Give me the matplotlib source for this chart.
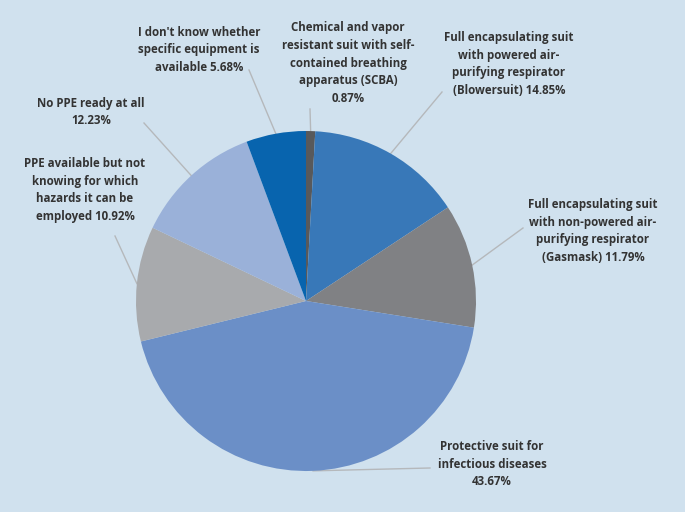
import matplotlib
matplotlib.use("Agg")
import matplotlib.pyplot as plt
import numpy as np

labels = [
    "Chemical and vapor\nresistant suit with self-\ncontained breathing\napparatus (SCBA)\n0.87%",
    "Full encapsulating suit\nwith powered air-\npurifying respirator\n(Blowersuit) 14.85%",
    "Full encapsulating suit\nwith non-powered air-\npurifying respirator\n(Gasmask) 11.79%",
    "Protective suit for\ninfectious diseases\n43.67%",
    "PPE available but not\nknowing for which\nhazards it can be\nemployed 10.92%",
    "No PPE ready at all\n12.23%",
    "I don't know whether\nspecific equipment is\navailable 5.68%",
]
values = [0.87, 14.85, 11.79, 43.67, 10.92, 12.23, 5.68]
colors = ["#58595b", "#3878b8", "#808184", "#6b8fc7", "#a8aaad", "#9ab1d9", "#0864ae"]

# label centres (pixel coords) and leader-line outer ends
label_pos = [(348, 63), (509, 64), (593, 231), (492, 464), (85, 190), (91, 112), (199, 50)]
line_end = [(310, 109), (442, 92), (523, 228), (430, 468), (115, 236), (144, 123), (249, 70)]

W, H = 685, 512
bg = "#d0e1ee"
fig = plt.figure(figsize=(W / 100, H / 100), dpi=100, facecolor=bg)
ax = fig.add_axes([0, 0, 1, 1])
ax.set_facecolor(bg)

cx, cy, r = 306, H - 301, 170
wedges, _ = ax.pie(values, colors=colors, startangle=90, counterclock=False,
                   center=(cx, cy), radius=r, frame=True,
                   wedgeprops=dict(linewidth=0))
ax.set_xlim(0, W)
ax.set_ylim(0, H)
ax.axis("off")

for w, lab, (lx, ly), (ex, ey) in zip(wedges, labels, label_pos, line_end):
    ang = np.deg2rad((w.theta1 + w.theta2) / 2)
    px, py = cx + r * np.cos(ang), cy + r * np.sin(ang)
    ax.plot([px, ex], [py, H - ey], color="#b5b8bb", lw=1.0, zorder=0)
    ax.text(lx, H - ly, lab, ha="center", va="center", fontsize=8.3,
            family="Open Sans", fontweight="bold",
            color="#333333", linespacing=1.47)

fig.savefig("out.png", dpi=100, facecolor=bg)
